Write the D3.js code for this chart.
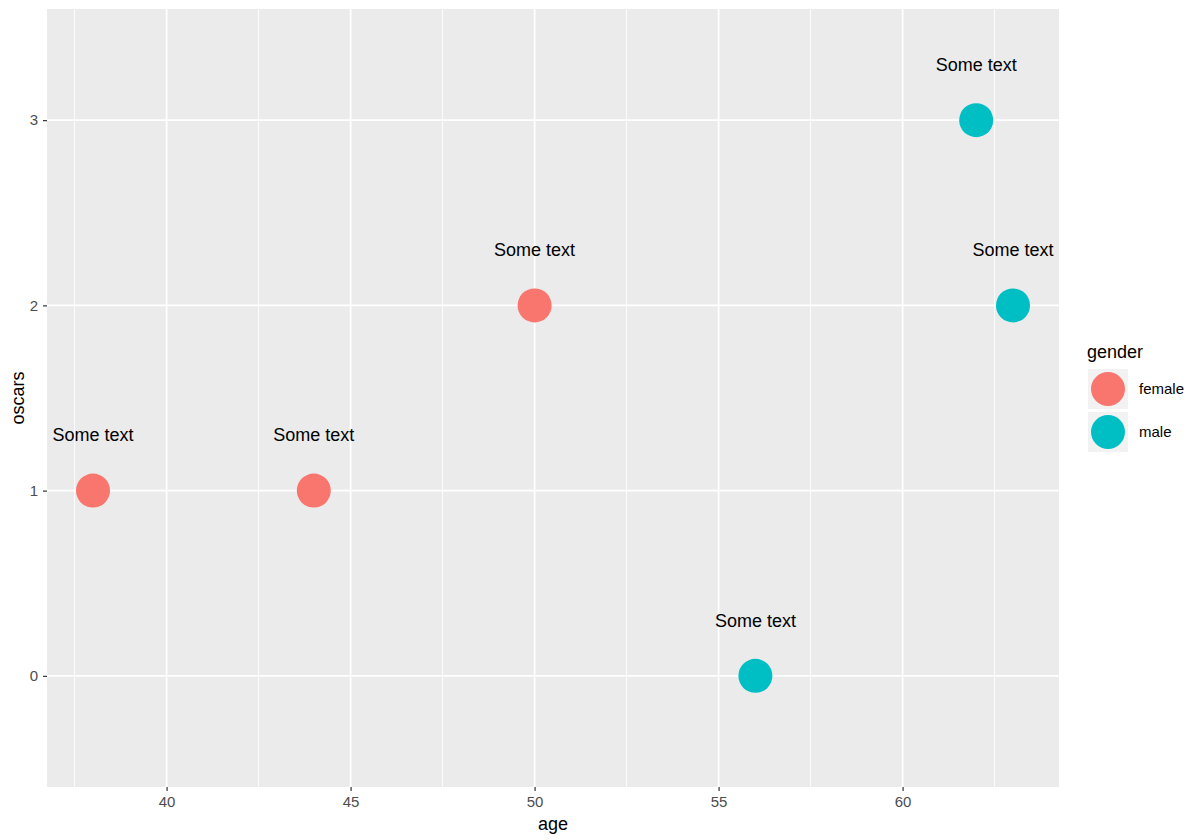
<!DOCTYPE html>
<html>
<head>
<meta charset="utf-8">
<script src="https://cdn.jsdelivr.net/npm/d3@7"></script>
<style>
html,body{margin:0;padding:0;background:#fff;}
text{font-family:"Liberation Sans",Arial,sans-serif;}
</style>
</head>
<body>
<svg id="chart" width="1200" height="840"></svg>
<script>
const ages = [38, 44, 50, 56, 62, 63];
const oscars = [1, 1, 2, 0, 3, 2];
const genders = ["female", "female", "female", "male", "male", "male"];
const labels = ["Some text", "Some text", "Some text", "Some text", "Some text", "Some text"];
const genderLevels = ["female", "male"];
const genderColors = ["#F8766D", "#00BFC4"];
const xTicks = [40, 45, 50, 55, 60];
const xMinor = [37.5, 42.5, 47.5, 52.5, 57.5, 62.5];
const yTicks = [0, 1, 2, 3];
const labelOffset = 0.3;

const svg = d3.select("#chart");
const P = {left: 47, right: 1059, top: 9, bottom: 787};

const x = d3.scaleLinear().domain([36.75, 64.25]).range([P.left, P.right]);
const y = d3.scaleLinear().domain([-0.6, 3.6]).range([P.bottom, P.top]);
const color = d3.scaleOrdinal().domain(genderLevels).range(genderColors);

svg.append("rect").attr("x", P.left).attr("y", P.top)
  .attr("width", P.right - P.left).attr("height", P.bottom - P.top).attr("fill", "#EBEBEB");

const g = svg.append("g");
g.selectAll(".xminor").data(xMinor).join("line")
  .attr("x1", d => x(d)).attr("x2", d => x(d)).attr("y1", P.top).attr("y2", P.bottom)
  .attr("stroke", "#fff").attr("stroke-width", 0.9);
g.selectAll(".xmajor").data(xTicks).join("line")
  .attr("x1", d => x(d)).attr("x2", d => x(d)).attr("y1", P.top).attr("y2", P.bottom)
  .attr("stroke", "#fff").attr("stroke-width", 1.7);
g.selectAll(".ymajor").data(yTicks).join("line")
  .attr("y1", d => y(d)).attr("y2", d => y(d)).attr("x1", P.left).attr("x2", P.right)
  .attr("stroke", "#fff").attr("stroke-width", 1.7);

// axes
const xAxis = d3.axisBottom(x).tickValues(xTicks).tickFormat(d3.format("d")).tickSize(4).tickPadding(5);
const xa = svg.append("g").attr("transform", `translate(0,${P.bottom})`).call(xAxis);
xa.attr("font-size", 15).attr("font-family", "Liberation Sans, Arial, sans-serif");
xa.select(".domain").remove();
xa.selectAll("line").attr("stroke", "#333").attr("stroke-width", 1.2);
xa.selectAll("text").attr("fill", "#4D4D4D").style("font-size", "15px");

const yAxis = d3.axisLeft(y).tickValues(yTicks).tickFormat(d3.format("d")).tickSize(4).tickPadding(5);
const ya = svg.append("g").attr("transform", `translate(${P.left},0)`).call(yAxis);
ya.attr("font-size", 15).attr("font-family", "Liberation Sans, Arial, sans-serif");
ya.select(".domain").remove();
ya.selectAll("line").attr("stroke", "#333").attr("stroke-width", 1.2);
ya.selectAll("text").attr("fill", "#4D4D4D").style("font-size", "15px");

svg.append("text").attr("x", (P.left + P.right) / 2).attr("y", 830)
  .attr("text-anchor", "middle").attr("font-size", 18).attr("fill", "#000").text("age");
svg.append("text").attr("transform", `translate(24,${(P.top + P.bottom) / 2}) rotate(-90)`)
  .attr("text-anchor", "middle").attr("font-size", 18).attr("fill", "#000").text("oscars");

const data = ages.map((a, i) => ({age: a, oscars: oscars[i], gender: genders[i], label: labels[i]}));

svg.selectAll(".pt").data(data).join("circle")
  .attr("cx", d => x(d.age)).attr("cy", d => y(d.oscars)).attr("r", 17)
  .attr("fill", d => color(d.gender));

svg.selectAll(".lbl").data(data).join("text")
  .attr("x", d => x(d.age)).attr("y", d => y(d.oscars + labelOffset))
  .attr("dy", "0.35em").attr("text-anchor", "middle").attr("font-size", 18).attr("fill", "#000")
  .text(d => d.label);

// legend
const lg = svg.append("g");
lg.append("text").attr("x", 1087).attr("y", 358).attr("font-size", 18).attr("fill", "#000").text("gender");
genderLevels.forEach((lv, i) => {
  const ky = 369 + i * 43;
  lg.append("rect").attr("x", 1088).attr("y", ky).attr("width", 40).attr("height", 40).attr("fill", "#F2F2F2");
  lg.append("circle").attr("cx", 1108).attr("cy", ky + 20).attr("r", 17).attr("fill", color(lv));
  lg.append("text").attr("x", 1139).attr("y", ky + 20).attr("dy", "0.35em").attr("font-size", 15).attr("fill", "#000").text(lv);
});
</script>
</body>
</html>
